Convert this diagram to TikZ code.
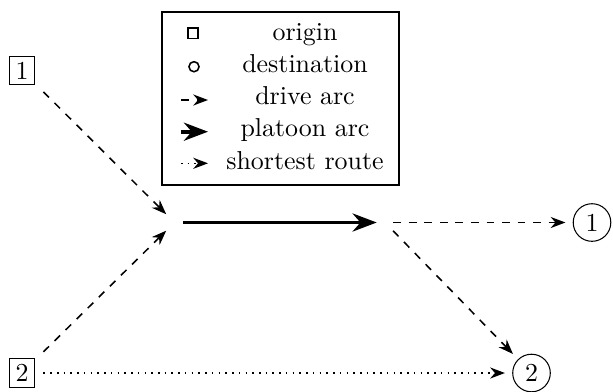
\documentclass[tikz,border=0pt]{standalone}
\usetikzlibrary{arrows.meta}
\begin{document}
\begin{tikzpicture}[x=0.3861pt, y=-0.3861pt, >={Stealth},
  orig/.style={draw, rectangle, inner sep=2.2pt, outer sep=3.6pt},
  dest/.style={draw, circle, inner sep=2.2pt, outer sep=3pt},
  junc/.style={inner sep=0pt, outer sep=3.2pt, minimum size=0pt},
  drivearc/.style={->, dashed, semithick},
  platoonarc/.style={->, line width=1.4pt},
  shortarc/.style={->, dotted, semithick},
  legtext/.style={anchor=base},
  legsym/.style={draw, semithick, inner sep=0pt, minimum size=3.9pt}]
\useasboundingbox (0,0) rectangle (613,391);
% network
\node[orig] (o1) at (22,70.5) {1};
\node[orig] (o2) at (22,373) {2};
\node[junc] (j1) at (174.5,222.5) {};
\node[junc] (j2) at (385,222.5) {};
\node[dest] (d1) at (592,222.5) {1};
\node[dest] (d2) at (531.5,373) {2};
\draw[drivearc] (o1) -- (j1);
\draw[drivearc] (o2) -- (j1);
\draw[platoonarc] (j1) -- (j2);
\draw[drivearc] (j2) -- (d1);
\draw[drivearc] (j2) -- (d2);
\draw[shortarc] (o2) -- (d2);
% legend
\node[draw, minimum width=91.5pt, minimum height=66.8pt, inner sep=0pt] (legend) at (280.5,98.5) {};
\node[legsym, rectangle] (lo) at (193,33.3) {};
\node[legsym, circle] (ld) at (194,66.7) {};
\coordinate (la1) at (181,100);   \coordinate (lb1) at (208,100);
\coordinate (la2) at (181,131.7); \coordinate (lb2) at (208,131.7);
\coordinate (la3) at (181,163.3); \coordinate (lb3) at (208,163.3);
\draw[drivearc] (la1) -- (lb1);
\draw[platoonarc] (la2) -- (lb2);
\draw[shortarc] (la3) -- (lb3);
\node[legtext] (t1) at (305,40) {origin};
\node[legtext] (t2) at (305,72.3) {destination};
\node[legtext] (t3) at (305,104.6) {drive arc};
\node[legtext] (t4) at (305,136.9) {platoon arc};
\node[legtext] (t5) at (305,169.2) {shortest route};
\end{tikzpicture}
\end{document}
